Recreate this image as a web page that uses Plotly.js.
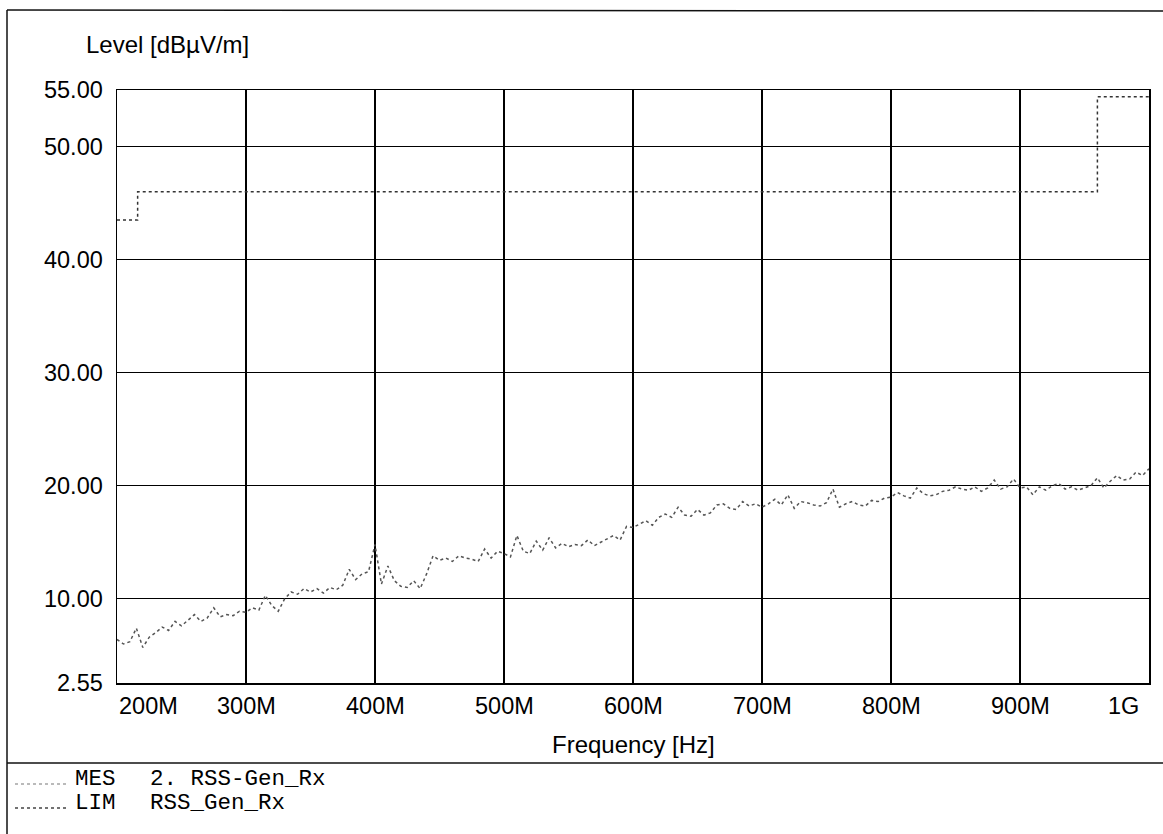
<!DOCTYPE html>
<html>
<head>
<meta charset="utf-8">
<script src="https://cdn.plot.ly/plotly-3.0.1.min.js"></script>
<style>html,body{margin:0;padding:0;background:#fff;}#chart{width:1163px;height:834px;}</style>
</head>
<body>
<div id="chart"></div>
<script>
// ---- data (frequency in MHz, level in dBuV/m) ----
const mesFreq = [200,205,210,215,220,225,230,235,240,245,250,255,260,265,270,275,280,285,290,295,
300,305,310,315,320,325,330,335,340,345,350,355,360,365,370,375,380,385,390,395,
400,405,410,415,420,425,430,435,440,445,450,455,460,465,470,475,480,485,490,495,
500,505,510,515,520,525,530,535,540,545,550,555,560,565,570,575,580,585,590,595,
600,605,610,615,620,625,630,635,640,645,650,655,660,665,670,675,680,685,690,695,
700,705,710,715,720,725,730,735,740,745,750,755,760,765,770,775,780,785,790,795,
800,805,810,815,820,825,830,835,840,845,850,855,860,865,870,875,880,885,890,895,
900,905,910,915,920,925,930,935,940,945,950,955,960,965,970,975,980,985,990,995,1000];
const mesLevel = [6.4,6.0,6.2,7.4,5.7,6.6,7.0,7.5,7.2,8.0,7.6,8.1,8.6,8.0,8.3,9.2,8.4,8.6,8.5,8.9,
8.8,9.2,9.0,10.3,9.4,8.9,10.0,10.6,10.4,10.9,10.6,10.9,10.5,11.0,10.8,11.2,12.6,11.7,12.2,12.4,
14.8,11.3,12.9,11.6,11.1,11.0,11.6,10.9,12.2,13.8,13.4,13.6,13.3,13.8,13.6,13.5,13.3,14.4,13.6,14.2,
14.0,13.7,15.6,14.2,14.0,15.1,14.3,15.4,14.5,14.9,14.6,14.8,14.7,15.2,14.7,15.0,15.3,15.6,15.2,16.4,
16.3,16.6,16.9,16.5,17.2,17.5,17.2,18.1,17.4,17.3,17.9,17.4,17.6,18.3,18.4,18.0,17.9,18.6,18.2,18.4,
18.1,18.4,18.8,18.3,19.2,18.0,18.6,18.5,18.3,18.2,18.5,19.7,18.1,18.4,18.6,18.3,18.2,18.7,18.6,18.9,
19.0,19.4,19.1,18.9,19.8,19.3,19.1,19.2,19.5,19.6,19.9,19.7,19.6,19.9,19.5,19.8,20.5,19.7,19.9,20.6,
19.8,19.9,19.2,19.9,19.6,20.0,20.2,19.7,19.9,19.6,19.8,20.0,20.7,19.8,20.4,20.9,20.5,20.6,21.2,20.9,21.5];

const limFreq = [200, 216, 216, 960, 960, 1000];
const limLevel = [43.5, 43.5, 46.0, 46.0, 54.4, 54.4];

const xTickVals = [200,300,400,500,600,700,800,900,1000];
const xTickText = ['200M','300M','400M','500M','600M','700M','800M','900M','1G'];
const yTickVals = [2.55,10,20,30,40,50,55];
const yTickText = ['2.55','10.00','20.00','30.00','40.00','50.00','55.00'];

const legendCodes = ['MES','LIM'];
const legendNames = ['2. RSS-Gen_Rx','RSS_Gen_Rx'];

// ---- layout helpers (pixel -> paper) ----
const L = 117, R = 1149, T = 90, B = 683;
const W = R - L, H = B - T;
const px = v => (v - L) / W;
const py = v => (B - v) / H;

const sans = "Arial, 'Liberation Sans', sans-serif";
const mono = "'Courier New', 'Liberation Mono', monospace";

const annotations = [];
xTickVals.forEach((v, i) => {
  const last = i === xTickVals.length - 1, first = i === 0;
  annotations.push({
    x: v, xref: 'x', y: py(706), yref: 'paper',
    text: xTickText[i], showarrow: false,
    xanchor: first ? 'left' : (last ? 'right' : 'center'),
    xshift: last ? -8 : 0,
    yanchor: 'middle', font: {family: sans, size: 23.5, color: '#000'}
  });
});
annotations.push({x: px(84), xref: 'paper', y: py(44), yref: 'paper', text: 'Level [dBµV/m]',
  showarrow: false, xanchor: 'left', yanchor: 'middle', font: {family: sans, size: 24, color: '#000'}});
annotations.push({x: 0.5, xref: 'paper', y: py(744), yref: 'paper', text: 'Frequency [Hz]',
  showarrow: false, xanchor: 'center', yanchor: 'middle', font: {family: sans, size: 24, color: '#000'}});
const legY = [779, 803];
legendCodes.forEach((c, i) => {
  annotations.push({x: px(73), xref: 'paper', y: py(legY[i]), yref: 'paper', text: c,
    showarrow: false, xanchor: 'left', yanchor: 'middle', font: {family: mono, size: 22.5, color: '#000'}});
  annotations.push({x: px(148), xref: 'paper', y: py(legY[i]), yref: 'paper', text: legendNames[i],
    showarrow: false, xanchor: 'left', yanchor: 'middle', font: {family: mono, size: 22.5, color: '#000'}});
});

const frame = {color: '#111', width: 1.5};
const shapes = [
  {type: 'line', xref: 'paper', yref: 'paper', x0: px(7), x1: px(1163), y0: py(10), y1: py(11), line: frame},
  {type: 'line', xref: 'paper', yref: 'paper', x0: px(7), x1: px(7), y0: py(10), y1: py(834), line: frame},
  {type: 'line', xref: 'paper', yref: 'paper', x0: px(7), x1: px(1163), y0: py(763), y1: py(763), line: frame},
  {type: 'line', xref: 'paper', yref: 'paper', x0: px(15), x1: px(68), y0: py(784), y1: py(784),
    line: {color: '#777', width: 1.2, dash: 'dot'}},
  {type: 'line', xref: 'paper', yref: 'paper', x0: px(15), x1: px(68), y0: py(808), y1: py(808),
    line: {color: '#444', width: 1.4, dash: 'dot'}}
];

const traces = [
  {x: mesFreq, y: mesLevel, type: 'scatter', mode: 'lines', name: 'MES',
   line: {color: '#555', width: 1.5, dash: 'dot'}, hoverinfo: 'skip'},
  {x: limFreq, y: limLevel, type: 'scatter', mode: 'lines', name: 'LIM',
   line: {color: '#333', width: 1.5, dash: 'dot'}, hoverinfo: 'skip'}
];

const layout = {
  width: 1163, height: 834,
  margin: {l: L, r: 1163 - R, t: T, b: 834 - B, pad: 0},
  paper_bgcolor: '#fff', plot_bgcolor: '#fff',
  showlegend: false,
  xaxis: {range: [200, 1000], tickvals: xTickVals, showticklabels: false, ticks: '',
    showgrid: true, gridcolor: '#000', gridwidth: 1.4, zeroline: false,
    showline: true, linecolor: '#000', linewidth: 1.5, mirror: true},
  yaxis: {range: [2.55, 55], tickvals: yTickVals, ticktext: yTickText, ticks: '',
    ticklabelstandoff: 8,
    tickfont: {family: sans, size: 23.5, color: '#000'},
    showgrid: true, gridcolor: '#000', gridwidth: 1.4, zeroline: false,
    showline: true, linecolor: '#000', linewidth: 1.5, mirror: true},
  annotations: annotations,
  shapes: shapes
};

Plotly.newPlot('chart', traces, layout, {staticPlot: true, displayModeBar: false});
</script>
</body>
</html>
